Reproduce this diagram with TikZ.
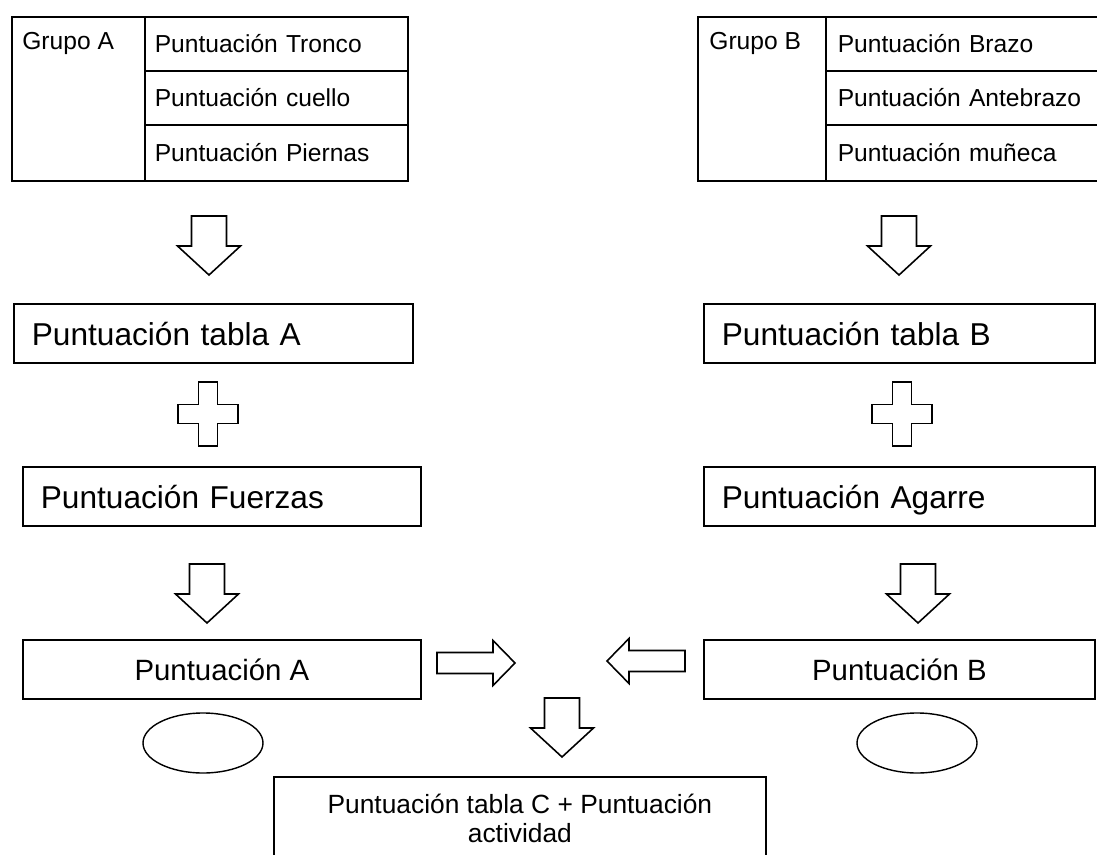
\documentclass[tikz,border=0pt]{standalone}
\usepackage{fontspec}
\setmainfont{Liberation Sans}
\usetikzlibrary{shapes.geometric}
\newlength{\pxu}
\setlength{\pxu}{0.02cm}
\begin{document}
\begin{tikzpicture}[x=0.02cm, y=-0.02cm,
    cell/.style={draw, line width=0.9pt, anchor=north west, inner sep=0pt, inner xsep=10\pxu, align=left, font=\fontsize{14}{16}\selectfont},
    celltxt/.style={anchor=base west, inner sep=0pt, font=\fontsize{14}{16}\selectfont},
    box/.style={draw, line width=1pt, anchor=north west, inner sep=0pt, minimum height=59\pxu},
    bigtxt/.style={font=\fontsize{18}{21}\selectfont, align=left, inner xsep=18\pxu, text depth=0pt},
    midtxt/.style={font=\fontsize{16.7}{20}\selectfont},
    oval/.style={ellipse, draw, line width=0.8pt, minimum width=120\pxu, minimum height=60\pxu, inner sep=0pt},
    blockarr/.style={draw, line width=0.9pt},
    downarr/.pic={\path[blockarr] (-17.5,0) -- (-17.5,30) -- (-31.5,30) -- (0,59) -- (31.5,30) -- (17.5,30) -- (17.5,0) -- cycle;},
    rightarr/.pic={\path[blockarr] (0,-10.5) -- (56,-10.5) -- (56,-22.5) -- (78,0) -- (56,22.5) -- (56,10.5) -- (0,10.5) -- cycle;},
    plusarr/.pic={\path[blockarr] (-9.5,-32) -- (9.5,-32) -- (9.5,-9.5) -- (30,-9.5) -- (30,9.5) -- (9.5,9.5) -- (9.5,32) -- (-9.5,32) -- (-9.5,9.5) -- (-30,9.5) -- (-30,-9.5) -- (-9.5,-9.5) -- cycle;}]
    \clip (0,0) rectangle (1097,854);
    \node[cell, minimum width=133\pxu, minimum height=164\pxu] (grupoA) at (11,16) {};
    \node[celltxt] (grupoAtxt) at (22,50) {Grupo A};
    \node[cell, text width=243\pxu, minimum height=54\pxu] (tronco) at (144,16) {Puntuación Tronco};
    \node[cell, text width=243\pxu, minimum height=54\pxu] (cuello) at (144,70) {Puntuación cuello};
    \node[cell, text width=243\pxu, minimum height=56\pxu] (piernas) at (144,124) {Puntuación Piernas};
    \node[cell, minimum width=128\pxu, minimum height=164\pxu] (grupoB) at (697,16) {};
    \node[celltxt] (grupoBtxt) at (709,50) {Grupo B};
    \node[cell, text width=249\pxu, inner xsep=12\pxu, minimum height=54\pxu] (brazo) at (825,16) {Puntuación Brazo};
    \node[cell, text width=249\pxu, inner xsep=12\pxu, minimum height=54\pxu] (antebrazo) at (825,70) {Puntuación Antebrazo};
    \node[cell, text width=249\pxu, inner xsep=12\pxu, minimum height=56\pxu] (muneca) at (825,124) {Puntuación muñeca};
    \node[box, bigtxt, text width=363\pxu] (tablaA) at (13,303) {Puntuación tabla A};
    \node[box, bigtxt, text width=362\pxu] (fuerzas) at (22,466) {Puntuación Fuerzas};
    \node[box, midtxt, minimum width=398\pxu] (puntA) at (22,639) {Puntuación A};
    \node[box, bigtxt, text width=355\pxu] (tablaB) at (703,303) {Puntuación tabla B};
    \node[box, bigtxt, text width=355\pxu] (agarre) at (703,466) {Puntuación Agarre};
    \node[box, midtxt, minimum width=391\pxu] (puntB) at (703,639) {Puntuación B};
    \node[oval] (ovalA) at (203,743) {};
    \node[oval] (ovalB) at (917,743) {};
    \node[box, minimum width=492\pxu, minimum height=83\pxu, align=center, font=\fontsize{15}{16.5}\selectfont] (tablaC) at (273,776) {Puntuación tabla C + Puntuación\\actividad};
    \pic at (209,216) {downarr};
    \pic at (207,564) {downarr};
    \pic at (899,216) {downarr};
    \pic at (918,564) {downarr};
    \pic at (562,698) {downarr};
    \pic at (208,414) {plusarr};
    \pic at (902,414) {plusarr};
    \pic at (437,663) {rightarr};
    \pic[rotate=180] at (685,661) {rightarr};
\end{tikzpicture}
\end{document}
